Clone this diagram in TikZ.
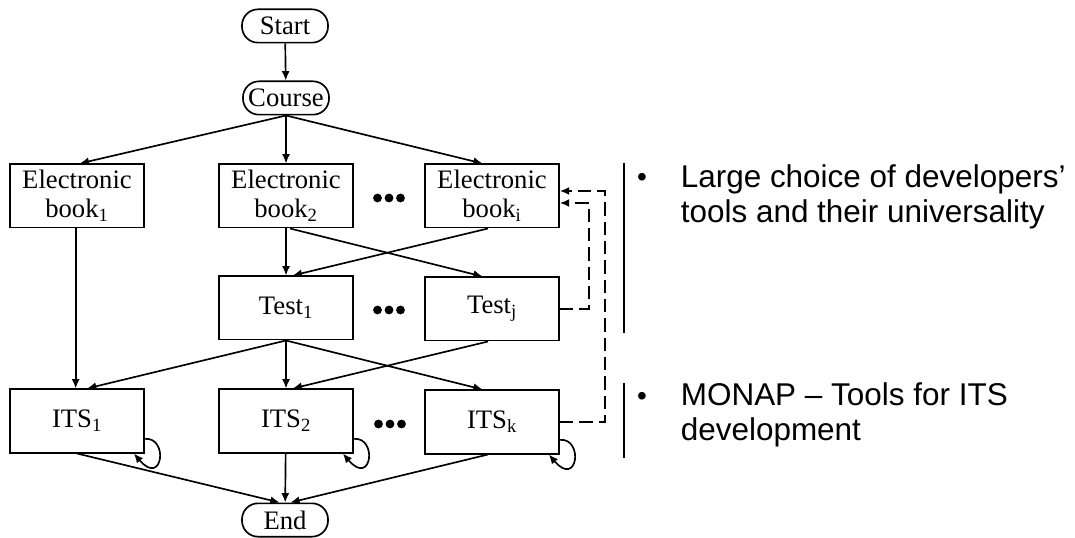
\documentclass[tikz,border=0pt]{standalone}
\usepackage{fontspec}
\usetikzlibrary{arrows.meta}
\setmainfont{Liberation Serif}
\newfontfamily\notefont{Liberation Sans}
\begin{document}
\begin{tikzpicture}[x=0.75pt,y=-0.75pt,line width=1.25pt,
    box/.style={draw,rectangle,minimum width=100.5pt,minimum height=47.5pt,align=center,inner sep=2pt,font=\fontsize{20}{22}\selectfont},
    term/.style={draw,rectangle,rounded corners=12pt,minimum width=64.5pt,minimum height=25pt,inner sep=1pt,font=\fontsize{20}{22}\selectfont},
    flow/.style={-{Latex[length=7pt,width=6pt]}},
    back/.style={-{Latex[length=7pt,width=6pt]},dash pattern=on 10pt off 4.5pt},
    note/.style={anchor=north west,inner sep=0pt,align=left,font=\notefont\fontsize{23.6}{26.3}\selectfont},
    bul/.style={anchor=base,inner sep=0pt,font=\notefont\fontsize{21}{26.3}\selectfont}]
    \useasboundingbox (0,0) rectangle (1075,538);

    \node[term] (start) at (285,26) {Start};
    \node[term] (course) at (286,98) {Course};
    \node[box] (book1) at (77,196) {Electronic\\book\textsubscript{1}};
    \node[box] (book2) at (286,196) {Electronic\\book\textsubscript{2}};
    \node[box] (booki) at (492,196) {Electronic\\book\textsubscript{i}};
    \node[box] (test1) at (286,308) {Test\textsubscript{1}};
    \node[box] (testj) at (492,309) {Test\textsubscript{j}};
    \node[box] (ITS1) at (77,421) {ITS\textsubscript{1}};
    \node[box] (ITS2) at (286,421) {ITS\textsubscript{2}};
    \node[box] (ITSk) at (492,422) {ITS\textsubscript{k}};
    \node[term] (end) at (285,520) {End};

    \fill (377.5,198) circle (3.3pt) (389,198) circle (3.3pt) (400.5,198) circle (3.3pt);
    \fill (377.5,310) circle (3.3pt) (389,310) circle (3.3pt) (400.5,310) circle (3.3pt);
    \fill (378.5,424) circle (3.3pt) (390,424) circle (3.3pt) (401.5,424) circle (3.3pt);

    \draw[flow] (start) -- (course);
    \draw[flow] (course.south) -- ([xshift=2pt]book1.north);
    \draw[flow] (course) -- (book2);
    \draw[flow] (course.south) -- ([xshift=-7pt]booki.north);
    \draw[flow] ([xshift=-1pt]book1.south) -- ([xshift=-1pt]ITS1.north);
    \draw[flow] (book2) -- (test1);
    \draw[flow] ([xshift=3pt]book2.south) -- ([xshift=-7pt]testj.north);
    \draw[flow] ([xshift=-3pt]booki.south) -- ([xshift=5pt]test1.north);
    \draw[flow] (test1.south) -- ([xshift=7.5pt]ITS1.north);
    \draw[flow] (test1) -- (ITS2);
    \draw[flow] (test1.south) -- ([xshift=-7pt]ITSk.north);
    \draw[flow] ([xshift=-3pt]testj.south) -- ([xshift=5pt]ITS2.north);
    \draw[flow] (ITS1.south) -- ([xshift=-4pt]end.north);
    \draw[flow] (ITS2) -- (end);
    \draw[flow] ([xshift=-3pt]ITSk.south) -- ([xshift=4pt]end.north);
    \foreach \n in {ITS1,ITS2,ITSk}
        \draw[flow] ([yshift=11pt]\n.south east) .. controls +(18pt,1.5pt) and +(21.75pt,-25.5pt) .. ([xshift=-8.25pt]\n.south east);

    \draw[back] (testj.east) -- ++(29,0) |- ([yshift=-5.25pt]booki.east);
    \draw[back] (ITSk.east) -- ++(45,0) |- ([yshift=3.75pt]booki.east);

    \draw[line width=1.5pt] (624,163) -- (624,333) (624,383) -- (624,458);
    \node[bul] (bulA) at (642,187) {•};
    \node[note] (noteA) at (680,164) {Large choice of developers’\\tools and their universality};
    \node[bul] (bulB) at (642,405) {•};
    \node[note] (noteB) at (680,382) {MONAP – Tools for ITS\\development};
\end{tikzpicture}
\end{document}
